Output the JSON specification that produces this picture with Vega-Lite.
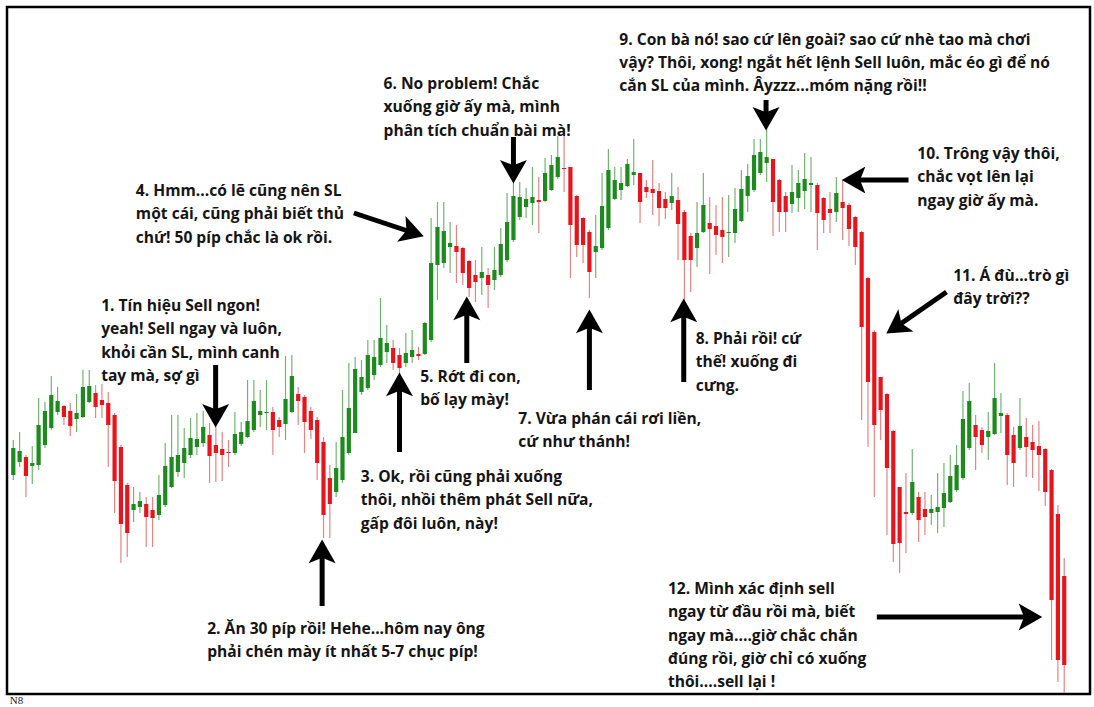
{
"$schema": "https://vega.github.io/schema/vega-lite/v6.json",
"width": 1083, "height": 687,
"autosize": {"type": "none"},
"padding": {"left": 7, "top": 7, "right": 4, "bottom": 13},
"background": "#ffffff",
"view": {"stroke": "#000000", "strokeWidth": 2.5},
"datasets": {
"candles": [
{"t":0,"o":225,"h":260,"l":220,"c":252},{"t":1,"o":238,"h":268,"l":233,"c":249},{"t":2,"o":243,"h":245,"l":203,"c":224},{"t":3,"o":234,"h":254,"l":216,"c":237},{"t":4,"o":235,"h":302,"l":230,"c":275},{"t":5,"o":255,"h":298,"l":252,"c":289},{"t":6,"o":272,"h":324,"l":270,"c":305},{"t":7,"o":288,"h":313,"l":285,"c":299},{"t":8,"o":294,"h":295,"l":275,"c":283},{"t":9,"o":289,"h":297,"l":264,"c":274},
{"t":10,"o":281,"h":306,"l":268,"c":287},{"t":11,"o":283,"h":330,"l":282,"c":313},{"t":12,"o":298,"h":330,"l":297,"c":314},{"t":13,"o":307,"h":315,"l":282,"c":293},{"t":14,"o":300,"h":316,"l":282,"c":295},{"t":15,"o":297,"h":308,"l":233,"c":275},{"t":16,"o":285,"h":287,"l":187,"c":219},{"t":17,"o":253,"h":255,"l":137,"c":176},{"t":18,"o":215,"h":217,"l":143,"c":167},{"t":19,"o":190,"h":213,"l":178,"c":196},
{"t":20,"o":193,"h":208,"l":187,"c":199},{"t":21,"o":196,"h":203,"l":153,"c":183},{"t":22,"o":190,"h":203,"l":153,"c":182},{"t":23,"o":185,"h":225,"l":180,"c":205},{"t":24,"o":195,"h":257,"l":193,"c":234},{"t":25,"o":213,"h":285,"l":212,"c":243},{"t":26,"o":228,"h":285,"l":223,"c":245},{"t":27,"o":237,"h":272,"l":222,"c":252},{"t":28,"o":245,"h":282,"l":242,"c":262},{"t":29,"o":253,"h":287,"l":245,"c":261},
{"t":30,"o":257,"h":289,"l":253,"c":273},{"t":31,"o":265,"h":277,"l":217,"c":244},{"t":32,"o":255,"h":273,"l":218,"c":247},{"t":33,"o":251,"h":268,"l":219,"c":245},{"t":34,"o":248,"h":260,"l":233,"c":247},{"t":35,"o":247,"h":288,"l":245,"c":266},{"t":36,"o":256,"h":278,"l":254,"c":268},{"t":37,"o":263,"h":320,"l":262,"c":279},{"t":38,"o":270,"h":320,"l":268,"c":299},{"t":39,"o":285,"h":310,"l":273,"c":289},
{"t":40,"o":287,"h":320,"l":270,"c":288},{"t":41,"o":288,"h":293,"l":245,"c":270},{"t":42,"o":280,"h":283,"l":263,"c":273},{"t":43,"o":276,"h":344,"l":260,"c":301},{"t":44,"o":288,"h":345,"l":287,"c":324},{"t":45,"o":306,"h":313,"l":275,"c":299},{"t":46,"o":303,"h":305,"l":247,"c":278},{"t":47,"o":289,"h":293,"l":261,"c":270},{"t":48,"o":280,"h":283,"l":220,"c":237},{"t":49,"o":258,"h":263,"l":162,"c":185},
{"t":50,"o":222,"h":235,"l":162,"c":196},{"t":51,"o":208,"h":258,"l":203,"c":232},{"t":52,"o":220,"h":310,"l":217,"c":263},{"t":53,"o":247,"h":337,"l":245,"c":292},{"t":54,"o":267,"h":343,"l":267,"c":331},{"t":55,"o":308,"h":340,"l":305,"c":323},{"t":56,"o":312,"h":360,"l":310,"c":345},{"t":57,"o":325,"h":360,"l":320,"c":343},{"t":58,"o":335,"h":402,"l":333,"c":362},{"t":59,"o":348,"h":375,"l":337,"c":357},
{"t":60,"o":352,"h":360,"l":330,"c":337},{"t":61,"o":345,"h":352,"l":323,"c":332},{"t":62,"o":337,"h":367,"l":333,"c":347},{"t":63,"o":343,"h":370,"l":337,"c":350},{"t":64,"o":346,"h":353,"l":340,"c":344},{"t":65,"o":346,"h":378,"l":345,"c":377},{"t":66,"o":360,"h":482,"l":358,"c":437},{"t":67,"o":435,"h":498,"l":400,"c":473},{"t":68,"o":437,"h":498,"l":432,"c":469},{"t":69,"o":453,"h":478,"l":427,"c":457},
{"t":70,"o":454,"h":475,"l":417,"c":448},{"t":71,"o":452,"h":453,"l":415,"c":427},{"t":72,"o":439,"h":440,"l":403,"c":412},{"t":73,"o":425,"h":440,"l":398,"c":418},{"t":74,"o":422,"h":453,"l":405,"c":428},{"t":75,"o":425,"h":432,"l":392,"c":415},{"t":76,"o":420,"h":453,"l":410,"c":430},{"t":77,"o":425,"h":472,"l":423,"c":456},{"t":78,"o":440,"h":507,"l":438,"c":478},{"t":79,"o":460,"h":523,"l":458,"c":504},
{"t":80,"o":483,"h":518,"l":480,"c":503},{"t":81,"o":493,"h":512,"l":482,"c":501},{"t":82,"o":497,"h":533,"l":475,"c":503},{"t":83,"o":500,"h":523,"l":467,"c":498},{"t":84,"o":499,"h":542,"l":498,"c":527},{"t":85,"o":510,"h":545,"l":509,"c":535},{"t":86,"o":523,"h":564,"l":521,"c":543},{"t":87,"o":532,"h":565,"l":508,"c":531},{"t":88,"o":533,"h":533,"l":422,"c":475},{"t":89,"o":504,"h":505,"l":443,"c":455},
{"t":90,"o":482,"h":483,"l":437,"c":455},{"t":91,"o":468,"h":470,"l":402,"c":428},{"t":92,"o":448,"h":485,"l":422,"c":454},{"t":93,"o":452,"h":527,"l":450,"c":494},{"t":94,"o":472,"h":551,"l":470,"c":530},{"t":95,"o":501,"h":533,"l":500,"c":520},{"t":96,"o":510,"h":533,"l":500,"c":517},{"t":97,"o":514,"h":541,"l":513,"c":536},{"t":98,"o":525,"h":561,"l":515,"c":528},{"t":99,"o":527,"h":527,"l":477,"c":498},
{"t":100,"o":513,"h":520,"l":502,"c":508},{"t":101,"o":511,"h":540,"l":485,"c":507},{"t":102,"o":509,"h":517,"l":474,"c":492},{"t":103,"o":501,"h":508,"l":481,"c":492},{"t":104,"o":497,"h":527,"l":490,"c":504},{"t":105,"o":500,"h":513,"l":440,"c":476},{"t":106,"o":488,"h":490,"l":400,"c":440},{"t":107,"o":464,"h":467,"l":408,"c":440},{"t":108,"o":452,"h":498,"l":433,"c":467},{"t":109,"o":468,"h":527,"l":467,"c":495},
{"t":110,"o":477,"h":503,"l":426,"c":471},{"t":111,"o":474,"h":495,"l":445,"c":465},{"t":112,"o":470,"h":503,"l":437,"c":463},{"t":113,"o":467,"h":505,"l":443,"c":468},{"t":114,"o":467,"h":512,"l":457,"c":491},{"t":115,"o":479,"h":530,"l":478,"c":511},{"t":116,"o":504,"h":536,"l":488,"c":524},{"t":117,"o":510,"h":561,"l":508,"c":545},{"t":118,"o":527,"h":561,"l":525,"c":548},{"t":119,"o":537,"h":572,"l":518,"c":543},
{"t":120,"o":541,"h":541,"l":464,"c":498},{"t":121,"o":520,"h":521,"l":468,"c":488},{"t":122,"o":504,"h":508,"l":468,"c":488},{"t":123,"o":496,"h":535,"l":487,"c":508},{"t":124,"o":502,"h":530,"l":488,"c":517},{"t":125,"o":509,"h":547,"l":491,"c":521},{"t":126,"o":515,"h":543,"l":488,"c":517},{"t":127,"o":515,"h":517,"l":450,"c":487},{"t":128,"o":502,"h":503,"l":467,"c":480},{"t":129,"o":491,"h":508,"l":467,"c":487},
{"t":130,"o":488,"h":523,"l":478,"c":507},{"t":131,"o":498,"h":520,"l":460,"c":492},{"t":132,"o":495,"h":497,"l":454,"c":471},{"t":133,"o":483,"h":484,"l":435,"c":453},{"t":134,"o":468,"h":469,"l":280,"c":373},{"t":135,"o":422,"h":423,"l":253,"c":318},{"t":136,"o":368,"h":370,"l":203,"c":275},{"t":137,"o":323,"h":323,"l":260,"c":290},{"t":138,"o":306,"h":307,"l":165,"c":232},{"t":139,"o":269,"h":270,"l":138,"c":156},
{"t":140,"o":213,"h":213,"l":127,"c":157},{"t":141,"o":188,"h":227,"l":147,"c":186},{"t":142,"o":187,"h":251,"l":185,"c":218},{"t":143,"o":203,"h":208,"l":158,"c":180},{"t":144,"o":191,"h":208,"l":165,"c":183},{"t":145,"o":187,"h":205,"l":175,"c":191},{"t":146,"o":188,"h":227,"l":167,"c":193},{"t":147,"o":192,"h":237,"l":173,"c":207},{"t":148,"o":198,"h":245,"l":197,"c":224},{"t":149,"o":210,"h":255,"l":208,"c":235},
{"t":150,"o":222,"h":309,"l":220,"c":281},{"t":151,"o":252,"h":317,"l":250,"c":299},{"t":152,"o":275,"h":285,"l":230,"c":263},{"t":153,"o":270,"h":273,"l":247,"c":255},{"t":154,"o":263,"h":288,"l":240,"c":269},{"t":155,"o":266,"h":337,"l":265,"c":302},{"t":156,"o":284,"h":307,"l":267,"c":287},{"t":157,"o":285,"h":287,"l":215,"c":245},{"t":158,"o":265,"h":273,"l":213,"c":237},{"t":159,"o":252,"h":302,"l":250,"c":274},
{"t":160,"o":263,"h":282,"l":223,"c":253},{"t":161,"o":258,"h":275,"l":222,"c":250},{"t":162,"o":254,"h":279,"l":209,"c":245},{"t":163,"o":251,"h":252,"l":194,"c":208},{"t":164,"o":230,"h":231,"l":40,"c":100},{"t":165,"o":186,"h":195,"l":18,"c":40},{"t":166,"o":124,"h":142,"l":7,"c":35}
],
"arrows": [
{"id":1,"x1":31.96,"y1":335,"x2":31.96,"y2":286,"a":180},
{"id":2,"x1":48.78,"y1":94,"x2":48.78,"y2":147,"a":0},
{"id":3,"x1":61.0,"y1":248,"x2":61.0,"y2":314,"a":0},
{"id":4,"x1":53.8,"y1":487,"x2":62.81,"y2":468,"a":108},
{"id":5,"x1":71.63,"y1":337,"x2":71.63,"y2":390,"a":0},
{"id":6,"x1":79.0,"y1":563,"x2":79.0,"y2":530,"a":180},
{"id":7,"x1":91.0,"y1":310,"x2":91.0,"y2":377,"a":0},
{"id":8,"x1":105.9,"y1":318,"x2":105.9,"y2":388,"a":0},
{"id":9,"x1":118.9,"y1":600,"x2":118.9,"y2":583,"a":180},
{"id":10,"x1":141.4,"y1":520,"x2":133.0,"y2":520,"a":270},
{"id":11,"x1":147.4,"y1":408,"x2":139.66,"y2":374,"a":236},
{"id":12,"x1":136.4,"y1":83,"x2":160.4,"y2":83,"a":90}
],
"notes": [
{"x":13.88,"y":389,"txt":"1. Tín hiệu Sell ngon!\nyeah! Sell ngay và luôn,\nkhỏi cần SL, mình canh\ntay mà, sợ gì"},
{"x":30.63,"y":66,"txt":"2. Ăn 30 píp rồi! Hehe...hôm nay ông\nphải chén mày ít nhất 5-7 chục píp!"},
{"x":54.88,"y":218,"txt":"3. Ok, rồi cũng phải xuống\nthôi, nhồi thêm phát Sell nữa,\ngấp đôi luôn, này!"},
{"x":19.36,"y":504,"txt":"4. Hmm...có lẽ cũng nên SL\nmột cái, cũng phải biết thủ\nchứ! 50 píp chắc là ok rồi."},
{"x":64.27,"y":318,"txt":"5. Rớt đi con,\nbố lạy mày!"},
{"x":58.48,"y":611,"txt":"6. No problem! Chắc\nxuống giờ ấy mà, mình\nphân tích chuẩn bài mà!"},
{"x":79.77,"y":276,"txt":"7. Vừa phán cái rơi liền,\ncứ như thánh!"},
{"x":107.78,"y":356,"txt":"8. Phải rồi! cứ\nthế! xuống đi\ncưng."},
{"x":95.73,"y":655.5,"txt":"9. Con bà nó! sao cứ lên goài? sao cứ nhè tao mà chơi\nvậy? Thôi, xong! ngắt hết lệnh Sell luôn, mắc éo gì để nó\ncắn SL của mình. Âyzzz...móm nặng rồi!!"},
{"x":142.8,"y":541,"txt":"10. Trông vậy thôi,\nchắc vọt lên lại\nngay giờ ấy mà."},
{"x":148.46,"y":419,"txt":"11. Á đù...trò gì\nđây trời??"},
{"x":103.4,"y":106,"txt":"12. Mình xác định sell\nngay từ đầu rồi mà, biết\nngay mà....giờ chắc chắn\nđúng rồi, giờ chỉ có xuống\nthôi....sell lại !"}
],
"footer": [{"x":-0.55,"y":-3.5,"txt":"N8"}]
},
"layer": [
{
"data": {"name": "candles"},
"mark": {"type": "rule", "strokeWidth": 1.2},
"encoding": {
"x": {"field": "t", "type": "quantitative", "scale": {"domain": [-0.2034, 169.28], "nice": false, "zero": false}, "axis": null},
"y": {"field": "l", "type": "quantitative", "scale": {"domain": [6, 693], "nice": false, "zero": false}, "axis": null},
"y2": {"field": "h"},
"color": {"condition": {"test": "datum.c >= datum.o", "value": "#72b572"}, "value": "#e68484"}
}
},
{
"data": {"name": "candles"},
"mark": {"type": "bar", "size": 4.2},
"encoding": {
"x": {"field": "t", "type": "quantitative"},
"y": {"field": "o", "type": "quantitative"},
"y2": {"field": "c"},
"color": {"condition": {"test": "datum.c >= datum.o", "value": "#1c8a1c"}, "value": "#e8141c"}
}
},
{
"data": {"name": "arrows"},
"mark": {"type": "rule", "strokeWidth": 5, "color": "#000000"},
"encoding": {
"x": {"field": "x1", "type": "quantitative"},
"y": {"field": "y1", "type": "quantitative"},
"x2": {"field": "x2"},
"y2": {"field": "y2"}
}
},
{
"data": {"name": "arrows"},
"mark": {"type": "point", "shape": "M0,-1L1,0.75L0,0.35L-1,0.75Z", "filled": true, "size": 729, "color": "#000000", "opacity": 1, "strokeWidth": 0},
"encoding": {
"x": {"field": "x2", "type": "quantitative"},
"y": {"field": "y2", "type": "quantitative"},
"angle": {"field": "a", "type": "quantitative", "scale": null}
}
},
{
"data": {"name": "notes"},
"mark": {"type": "text", "align": "left", "baseline": "alphabetic", "lineBreak": "\n", "lineHeight": 23.3, "font": "Open Sans", "fontWeight": "bold", "fontSize": 15.6, "color": "#151515"},
"encoding": {
"x": {"field": "x", "type": "quantitative"},
"y": {"field": "y", "type": "quantitative"},
"text": {"field": "txt"}
}
},
{
"data": {"name": "footer"},
"mark": {"type": "text", "align": "left", "baseline": "alphabetic", "font": "Liberation Serif", "fontSize": 11, "color": "#222222", "clip": false},
"encoding": {
"x": {"field": "x", "type": "quantitative"},
"y": {"field": "y", "type": "quantitative"},
"text": {"field": "txt"}
}
}
]
}
